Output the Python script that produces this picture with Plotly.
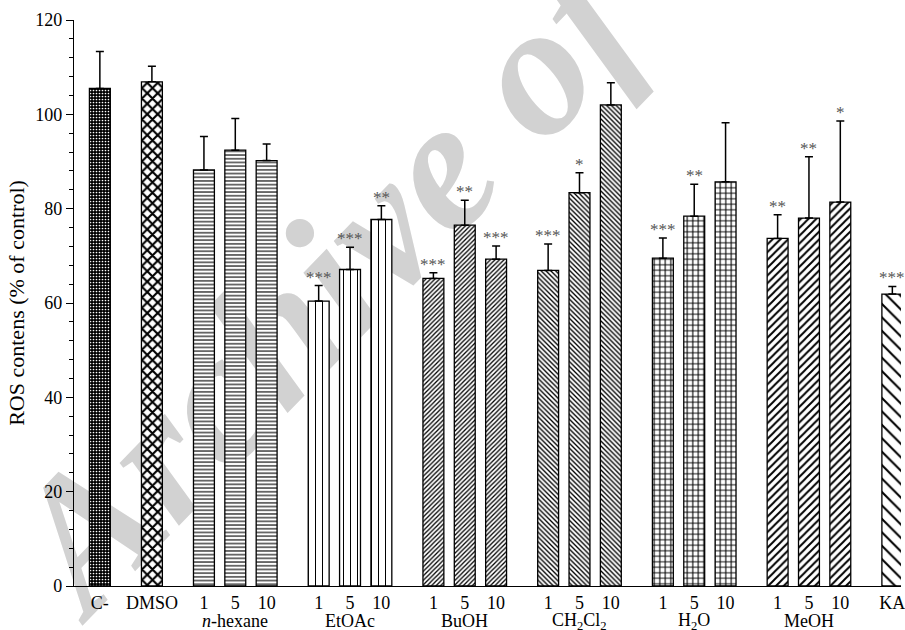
import plotly.graph_objects as go

# ROS content per treatment (% of control), mean + SEM, with significance marks
group_names = ["", "", "<i>n</i>-hexane", "EtOAc", "BuOH",
               "CH<sub>2</sub>Cl<sub>2</sub>", "H<sub>2</sub>O", "MeOH", ""]
group_sizes = [1, 1, 3, 3, 3, 3, 3, 3, 1]
bar_labels = ["C-", "DMSO",
              "1", "5", "10",
              "1", "5", "10",
              "1", "5", "10",
              "1", "5", "10",
              "1", "5", "10",
              "1", "5", "10",
              "KA"]
ros_mean = [105.5, 106.9,
            88.2, 92.4, 90.2,
            60.4, 67.1, 77.7,
            65.2, 76.5, 69.3,
            66.9, 83.4, 102.0,
            69.5, 78.4, 85.7,
            73.7, 78.0, 81.4,
            61.9]
ros_sem = [7.8, 3.3,
           7.1, 6.7, 3.5,
           3.3, 4.7, 2.9,
           1.2, 5.3, 2.8,
           5.6, 4.2, 4.7,
           4.3, 6.8, 12.5,
           5.0, 13.0, 17.2,
           1.6]
signif = ["", "",
          "", "", "",
          "***", "***", "**",
          "***", "**", "***",
          "***", "*", "",
          "***", "**", "",
          "**", "**", "*",
          "***"]
y_ticks = [0, 20, 40, 60, 80, 100, 120]

# fill pattern of each group: (shape, fg, bg, size, solidity)
patterns = [
    (".", "white", "black", 3.0, 0.25),
    ("x", "black", "white", 7.4, 0.5),
    ("-", "black", "white", 3.7, 0.3),
    ("|", "black", "white", 7.0, 0.15),
    ("/", "black", "white", 3.2, 0.4),
    ("\\", "black", "white", 3.4, 0.4),
    ("+", "black", "white", 5.5, 0.35),
    ("/", "black", "white", 5.5, 0.35),
    ("\\", "black", "white", 9.5, 0.22),
]

GAP = 1.66      # distance between neighbouring groups, in bar slots
BAR_W = 0.667
SERIF = "Liberation Serif, Times New Roman, serif"

# slot positions of the bars along the x axis
positions = []
pos = 0.0
for n in group_sizes:
    for _ in range(n):
        positions.append(pos)
        pos += 1
    pos += GAP - 1

fig = go.Figure()

start = 0
for g, n in enumerate(group_sizes):
    sl = slice(start, start + n)
    xs = positions[sl]
    shape, fg, bg, size, sol = patterns[g]
    fig.add_trace(go.Bar(
        x=xs, y=ros_mean[sl], width=BAR_W,
        marker=dict(color="white",
                    line=dict(color="black", width=1.3),
                    pattern=dict(shape=shape, fgcolor=fg, bgcolor=bg,
                                 size=size, solidity=sol, fillmode="replace")),
        error_y=dict(type="data", array=ros_sem[sl], arrayminus=[0] * n,
                     symmetric=False, color="black", thickness=1.5, width=4),
        showlegend=False, hoverinfo="skip",
    ))
    # group name centred under the middle bar of the group
    if group_names[g]:
        fig.add_annotation(x=xs[n // 2], xref="x", y=0, yref="paper",
                           yanchor="middle", yshift=-35, showarrow=False,
                           text=group_names[g],
                           font=dict(family=SERIF, size=18, color="black"))
    start += n

# significance stars above the error bars
for x, m, e, s in zip(positions, ros_mean, ros_sem, signif):
    if s:
        fig.add_annotation(x=x, y=m + e, text=s, showarrow=False,
                           yanchor="bottom", yshift=-3,
                           font=dict(family=SERIF, size=17, color="#555555"))

# faint diagonal watermark, kept underneath the bars
fig.add_shape(type="rect", xref="paper", yref="paper",
              x0=0.427, x1=0.447, y0=0.773, y1=0.803,
              line=dict(width=0), fillcolor="rgba(0,0,0,0)", layer="below",
              label=dict(text="<b><i>Archive of SID</i></b>",
                         textposition="middle center", textangle=-46,
                         font=dict(family=SERIF, size=188, color="#d2d2d2")))

fig.update_layout(
    width=905, height=630,
    margin=dict(l=74, r=0, t=20, b=44),
    paper_bgcolor="white", plot_bgcolor="rgba(0,0,0,0)",
    barmode="overlay",
    font=dict(family=SERIF, color="black"),
    xaxis=dict(range=[-0.825, 25.556], tickvals=positions, ticktext=bar_labels,
               tickangle=0, ticks="", ticklabeloverflow="allow",
               showline=True, linecolor="black",
               linewidth=1.3, showgrid=False, zeroline=False,
               tickfont=dict(family=SERIF, size=18, color="black")),
    yaxis=dict(range=[0, 120], tickvals=y_ticks, ticks="outside", ticklen=7,
               tickwidth=1.3, tickcolor="black",
               minor=dict(dtick=4, ticks="outside", ticklen=4,
                          tickwidth=1.2, tickcolor="black"),
               showline=True, linecolor="black", linewidth=1.3,
               showgrid=False, zeroline=False,
               tickfont=dict(family=SERIF, size=18, color="black"),
               title=dict(text="ROS contens (% of control)", standoff=4,
                          font=dict(family=SERIF, size=22, color="black"))),
)

fig.write_html("out.html")
